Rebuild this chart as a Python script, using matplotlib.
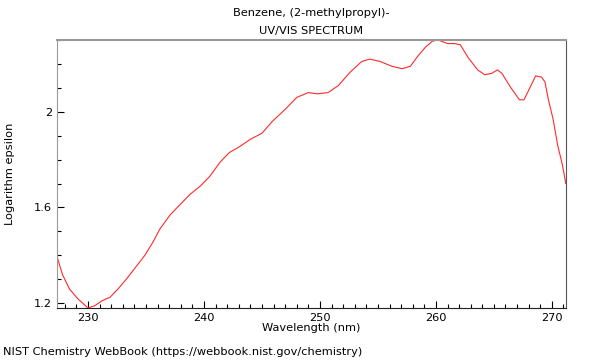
import matplotlib
matplotlib.use("Agg")
import matplotlib.pyplot as plt
from matplotlib.ticker import MultipleLocator

# UV/VIS spectrum (nm, log epsilon)
wavelength = [
    227.3, 227.8, 228.4, 229.1, 230.0, 230.6, 231.2, 231.9, 232.6, 233.3,
    234.1, 234.9, 235.6, 236.2, 237.1, 237.9, 238.8, 239.7, 240.5, 241.4,
    242.2, 243.1, 244.0, 245.0, 245.9, 247.0, 248.0, 249.0, 249.8, 250.7,
    251.6, 252.6, 253.6, 254.3, 255.2, 256.2, 257.1, 257.8, 258.4, 259.1,
    259.7, 260.2, 261.0, 261.6, 262.1, 262.8, 263.6, 264.2, 264.8, 265.3,
    265.7, 266.4, 267.2, 267.6, 268.1, 268.6, 269.1, 269.4, 269.7, 270.1,
    270.5, 270.9, 271.2,
]
log_eps = [
    1.40, 1.32, 1.26, 1.22, 1.18, 1.19, 1.21, 1.225, 1.26, 1.30,
    1.35, 1.40, 1.455, 1.51, 1.57, 1.61, 1.655, 1.69, 1.73, 1.79,
    1.83, 1.855, 1.885, 1.91, 1.96, 2.01, 2.06, 2.08, 2.075, 2.08,
    2.11, 2.165, 2.21, 2.22, 2.21, 2.19, 2.18, 2.19, 2.23, 2.27,
    2.295, 2.30, 2.285, 2.285, 2.28, 2.225, 2.175, 2.155, 2.16, 2.175,
    2.16, 2.105, 2.05, 2.05, 2.10, 2.15, 2.145, 2.125, 2.05, 1.97,
    1.86, 1.78, 1.70,
]

fs = 8.2

fig = plt.figure(figsize=(6, 3.6), dpi=100)
ax = fig.add_axes([0.095, 0.1444, 0.848, 0.7446])
ax.plot(wavelength, log_eps, color="#ff2a2a", linewidth=0.8)

ax.set_xlim(227.33, 271.2)
ax.set_ylim(1.18, 2.30)
ax.xaxis.set_major_locator(MultipleLocator(10))
ax.xaxis.set_minor_locator(MultipleLocator(1))
ax.yaxis.set_major_locator(MultipleLocator(0.4))
ax.yaxis.set_minor_locator(MultipleLocator(0.1))
ax.yaxis.set_major_formatter(lambda v, pos: f"{v:g}")
ax.tick_params(which="both", direction="in", labelsize=fs, width=0.8)
ax.tick_params(which="major", length=5)
ax.tick_params(which="minor", length=3)

ax.spines["top"].set_color("#999999")
ax.spines["top"].set_linewidth(1.5)
ax.spines["left"].set_color("#999999")
ax.spines["right"].set_color("#555555")
ax.spines["bottom"].set_color("#222222")

ax.set_xlabel("Wavelength (nm)", fontsize=fs, labelpad=0)
ax.set_ylabel("Logarithm epsilon", fontsize=fs, labelpad=14)
ax.set_title("Benzene, (2-methylpropyl)-\nUV/VIS SPECTRUM", fontsize=fs,
             linespacing=2.0, pad=4)
fig.text(0.005, 0.008, "NIST Chemistry WebBook (https://webbook.nist.gov/chemistry)",
         fontsize=fs, ha="left", va="bottom")

fig.savefig("out.png", dpi=100)
